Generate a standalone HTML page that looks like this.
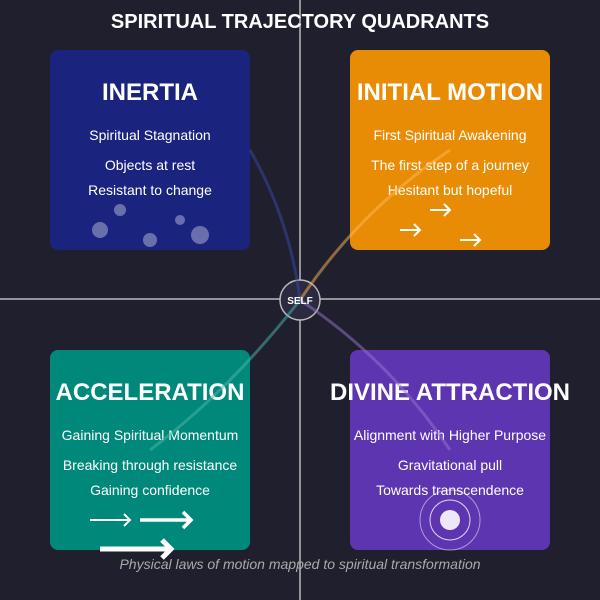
<!DOCTYPE html>
<html><head><style>body{margin:0;background:#1f1f2e}svg{display:block}</style></head><body>
<svg width="600" height="600" xmlns="http://www.w3.org/2000/svg" font-family="Liberation Sans, sans-serif">
<rect width="600" height="600" fill="#1f1f2e"/>
<line x1="300" y1="0" x2="300" y2="600" stroke="#bbb" stroke-width="1.5"/>
<line x1="0" y1="299" x2="600" y2="299" stroke="#bbb" stroke-width="1.5"/>
<text x="300" y="28" text-anchor="middle" fill="#fff" font-size="20" font-weight="bold">SPIRITUAL TRAJECTORY QUADRANTS</text>
<rect x="50" y="50" width="200" height="200" rx="8" fill="#1a237e"/>
<rect x="350" y="50" width="200" height="200" rx="8" fill="#e88c06"/>
<rect x="50" y="350" width="200" height="200" rx="8" fill="#00897b"/>
<rect x="350" y="350" width="200" height="200" rx="8" fill="#5e35b1"/>
<g fill="#fff" text-anchor="middle">
<text x="150" y="100" font-size="24" font-weight="bold">INERTIA</text>
<text x="150" y="140" font-size="14">Spiritual Stagnation</text>
<text x="150" y="170" font-size="14">Objects at rest</text>
<text x="150" y="195" font-size="14">Resistant to change</text>
<text x="450" y="100" font-size="24" font-weight="bold">INITIAL MOTION</text>
<text x="450" y="140" font-size="14">First Spiritual Awakening</text>
<text x="450" y="170" font-size="14">The first step of a journey</text>
<text x="450" y="195" font-size="14">Hesitant but hopeful</text>
<text x="150" y="400" font-size="24" font-weight="bold">ACCELERATION</text>
<text x="150" y="440" font-size="14">Gaining Spiritual Momentum</text>
<text x="150" y="470" font-size="14">Breaking through resistance</text>
<text x="150" y="495" font-size="14">Gaining confidence</text>
<text x="450" y="400" font-size="24" font-weight="bold">DIVINE ATTRACTION</text>
<text x="450" y="440" font-size="14">Alignment with Higher Purpose</text>
<text x="450" y="470" font-size="14">Gravitational pull</text>
<text x="450" y="495" font-size="14">Towards transcendence</text>
</g>
<g fill="#fff" fill-opacity="0.35">
<circle cx="100" cy="230" r="8"/><circle cx="120" cy="210" r="6"/><circle cx="150" cy="240" r="7"/><circle cx="180" cy="220" r="5"/><circle cx="200" cy="235" r="9"/>
</g>
<g stroke="#fff" stroke-width="2" fill="none">
<path d="M430 210h20M444 204l6 6-6 6"/>
<path d="M400 230h20M414 224l6 6-6 6"/>
<path d="M460 240h20M474 234l6 6-6 6"/>
<path d="M90 520h40M124 514l6 6-6 6"/>
<path d="M140 520h50M183 512l8 8-8 8" stroke-width="3.5"/>
<path d="M100 549h70M162 540l9 9-9 9" stroke-width="5"/>
</g>
<circle cx="450" cy="520" r="30" stroke="#fff" stroke-opacity="0.5" fill="none"/>
<circle cx="450" cy="520" r="20" stroke="#fff" stroke-opacity="0.8" fill="none"/>
<circle cx="450" cy="520" r="10" fill="#ede7f6"/>
<circle cx="300" cy="300" r="20" fill="#2a2a40" stroke="#bbb" stroke-width="1.5"/>
<g fill="none" stroke-width="3" stroke-opacity="0.5">
<path d="M250 150 Q290 220 300 300" stroke="#3949ab"/>
<path d="M300 300 Q360 210 450 150" stroke="#ffb74d"/>
<path d="M300 300 Q230 390 150 450" stroke="#4db6ac"/>
<path d="M300 300 Q390 360 450 450" stroke="#9575cd"/>
</g>
<text x="300" y="304" text-anchor="middle" fill="#fff" font-size="10" font-weight="bold">SELF</text>
<text x="300" y="569" text-anchor="middle" fill="#aaa" font-size="14" font-style="italic">Physical laws of motion mapped to spiritual transformation</text>
</svg>
</body></html>
